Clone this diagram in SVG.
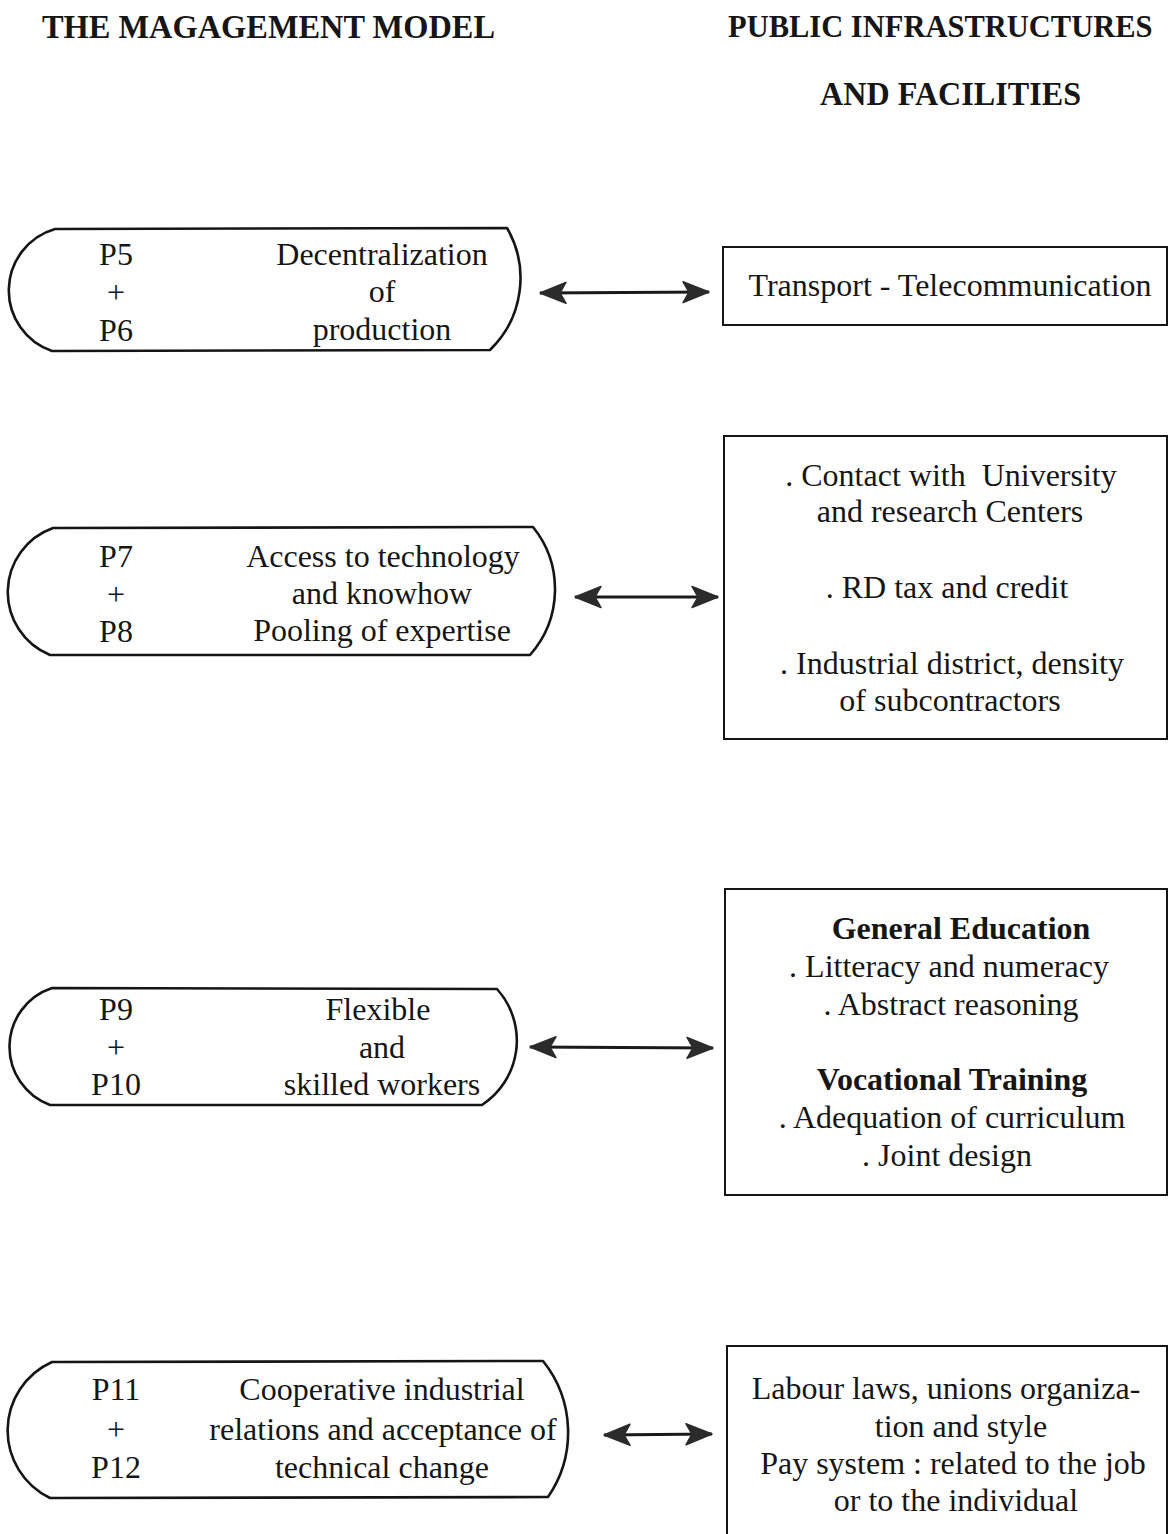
<svg xmlns="http://www.w3.org/2000/svg" width="1169" height="1534" viewBox="0 0 1169 1534">
  <style>
    .bg { fill: #ffffff; }
    .title { font-family: "Liberation Serif", "Times New Roman", serif; font-weight: bold; font-size: 33px; fill: #161616; }
    .t { font-family: "Liberation Serif", "Times New Roman", serif; font-size: 32px; fill: #161616; text-anchor: middle; }
    .tb { font-weight: bold; }
    .pill { fill: none; stroke: #151515; stroke-width: 2.6; stroke-linejoin: round; }
    .box { fill: none; stroke: #151515; stroke-width: 2; }
    .link { stroke: #1a1a1a; stroke-width: 3; fill: none; marker-start: url(#head); marker-end: url(#head); }
  </style>
  <defs>
    <marker id="head" viewBox="0 0 30 24" refX="28" refY="12" markerWidth="30" markerHeight="24" markerUnits="userSpaceOnUse" orient="auto-start-reverse">
      <path d="M28,12 L2,1.5 L8,12 L2,22.5 Z" fill="#2b2b2b" stroke="#2b2b2b" stroke-width="1.5" stroke-linejoin="round"/>
    </marker>
  </defs>

  <rect class="bg" x="0" y="0" width="1169" height="1534"/>

  <!-- column headings -->
  <g id="heading-left">
    <text class="title" x="42" y="38" textLength="453" lengthAdjust="spacingAndGlyphs">THE MAGAGEMENT MODEL</text>
  </g>
  <g id="heading-right">
    <text class="title" x="728" y="37" style="font-size:30.5px">PUBLIC INFRASTRUCTURES</text>
    <text class="title" x="820" y="105" textLength="261" lengthAdjust="spacingAndGlyphs">AND FACILITIES</text>
  </g>

  <!-- management model principles (left column) -->
  <g id="p5-p6">
    <path class="pill" d="M55,229 L507,228 A100,100 0 0 1 490,350 L52,351 A64,64 0 0 1 55,229 Z"/>
    <text class="t" x="116" y="265">P5</text>
    <text class="t" x="116" y="303">+</text>
    <text class="t" x="116" y="341">P6</text>
    <text class="t" x="382" y="265">Decentralization</text>
    <text class="t" x="382" y="302">of</text>
    <text class="t" x="382" y="340">production</text>
  </g>

  <g id="p7-p8">
    <path class="pill" d="M53,528 L533,527 A99,99 0 0 1 530,655 L50,655 A68,68 0 0 1 53,528 Z"/>
    <text class="t" x="116" y="567">P7</text>
    <text class="t" x="116" y="605">+</text>
    <text class="t" x="116" y="642">P8</text>
    <text class="t" x="383" y="567">Access to technology</text>
    <text class="t" x="382" y="604">and knowhow</text>
    <text class="t" x="382" y="641">Pooling of expertise</text>
  </g>

  <g id="p9-p10">
    <path class="pill" d="M52,988 L497,989 A77,77 0 0 1 482,1105 L50,1105 A62,62 0 0 1 52,988 Z"/>
    <text class="t" x="116" y="1020">P9</text>
    <text class="t" x="116" y="1058">+</text>
    <text class="t" x="116" y="1095">P10</text>
    <text class="t" x="378" y="1020">Flexible</text>
    <text class="t" x="382" y="1058">and</text>
    <text class="t" x="382" y="1095">skilled workers</text>
  </g>

  <g id="p11-p12">
    <path class="pill" d="M52,1362 L543,1361 A114,114 0 0 1 548,1497 L50,1498 A75,75 0 0 1 52,1362 Z"/>
    <text class="t" x="116" y="1400">P11</text>
    <text class="t" x="116" y="1440">+</text>
    <text class="t" x="116" y="1478">P12</text>
    <text class="t" x="382" y="1400">Cooperative industrial</text>
    <text class="t" x="383" y="1440">relations and acceptance of</text>
    <text class="t" x="382" y="1478">technical change</text>
  </g>

  <!-- public infrastructures and facilities (right column) -->
  <g id="transport">
    <rect class="box" x="723" y="247" width="444" height="78"/>
    <text class="t" x="950" y="296">Transport - Telecommunication</text>
  </g>

  <g id="research">
    <rect class="box" x="724" y="436" width="443" height="303"/>
    <text class="t" x="951" y="486">. Contact with&#160; University</text>
    <text class="t" x="950" y="522">and research Centers</text>
    <text class="t" x="947" y="598">. RD tax and credit</text>
    <text class="t" x="952" y="674">. Industrial district, density</text>
    <text class="t" x="950" y="711">of subcontractors</text>
  </g>

  <g id="education">
    <rect class="box" x="725" y="889" width="442" height="306"/>
    <text class="t tb" x="961" y="939">General Education</text>
    <text class="t" x="949" y="977">. Litteracy and numeracy</text>
    <text class="t" x="951" y="1015">. Abstract reasoning</text>
    <text class="t tb" x="952" y="1090">Vocational Training</text>
    <text class="t" x="952" y="1128">. Adequation of curriculum</text>
    <text class="t" x="947" y="1166">. Joint design</text>
  </g>

  <g id="labour">
    <rect class="box" x="727" y="1346" width="440" height="210"/>
    <text class="t" x="946" y="1399">Labour laws, unions organiza-</text>
    <text class="t" x="961" y="1437">tion and style</text>
    <text class="t" x="953" y="1474">Pay system : related to the job</text>
    <text class="t" x="956" y="1511">or to the individual</text>
  </g>

  <!-- two-way links between principles and facilities -->
  <g id="connectors">
    <line class="link" x1="540" y1="293" x2="709" y2="292"/>
    <line class="link" x1="575" y1="597" x2="718" y2="597"/>
    <line class="link" x1="530" y1="1047" x2="713" y2="1048"/>
    <line class="link" x1="604" y1="1435" x2="712" y2="1434"/>
  </g>
</svg>
